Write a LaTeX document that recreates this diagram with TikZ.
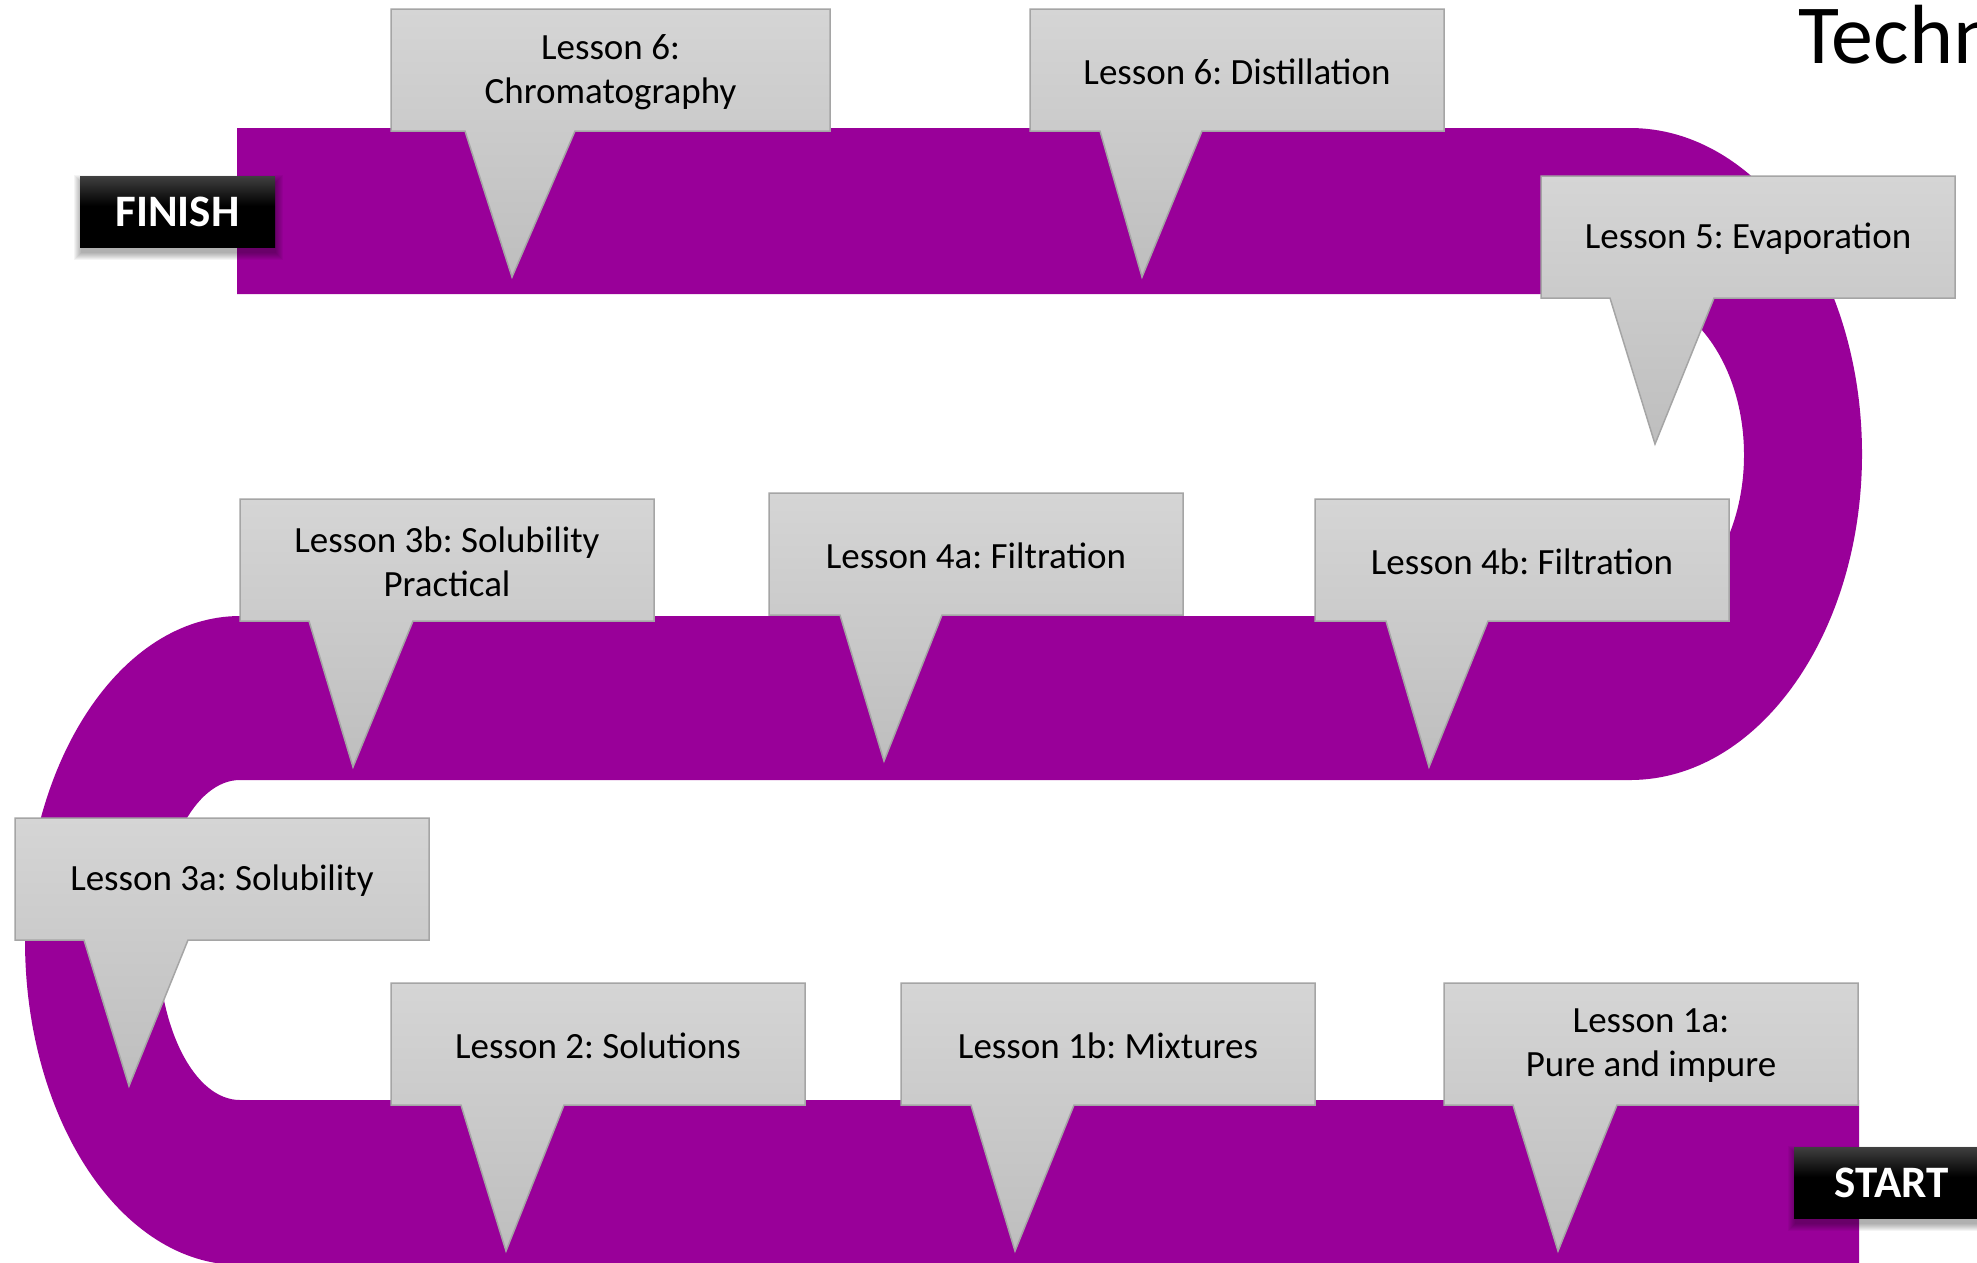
\documentclass[tikz,border=0pt]{standalone}
\usepackage{fontspec}
\setmainfont{Carlito}
\frenchspacing
\usetikzlibrary{shadows}
\definecolor{purp}{RGB}{153,0,153}
\definecolor{cTop}{RGB}{213,213,213}
\definecolor{cBot}{RGB}{190,190,190}
\definecolor{cLine}{RGB}{165,165,165}
\pgfdeclareverticalshading{darkbar}{100bp}{color(0bp)=(black); color(54bp)=(black); color(75bp)=(black!75); color(100bp)=(black!75)}
\tikzset{
  band/.style={fill=purp, draw=none},
  callout/.style={top color=cTop, bottom color=cBot, draw=cLine, line width=1.5pt, line join=miter},
  ctext/.style={font=\fontsize{37}{44}\selectfont, align=center, text=black, inner sep=0pt},
  tagbox/.style={font=\fontsize{45}{54}\selectfont\bfseries, text=white, inner sep=0pt,
    minimum width=195pt, minimum height=71pt, shading=darkbar},
  shadowpiece/.style={fill=black, fill opacity=0.045, draw=none},
}
% #1 name, #2 left, #3 top, #4 width, #5 base left offset, #6 base right offset, #7 tip offset, #8 text
\newcommand\callout[8]{%
  \path[callout] (#2,#3) -- ({#2+#4},#3) -- ({#2+#4},{#3+122}) -- ({#2+#6},{#3+122})
    -- ({#2+#7},{#3+268}) -- ({#2+#5},{#3+122}) -- (#2,{#3+122}) -- cycle;
  \node[ctext] (#1) at ({#2+#4/2},{#3+63}) {#8};
}
% soft shadow: #1 left, #2 top, #3 right, #4 bottom
\newcommand\softshadow[4]{%
  \foreach \k in {0,1,...,7}{
    \path[shadowpiece] ({#1+1-\k},{#2+6-\k}) rectangle ({#3+1+\k},{#4+6+\k});
  }
}
\begin{document}
\begin{tikzpicture}[x=1pt,y=-1pt]
\useasboundingbox[fill=white] (0,0) rectangle (1977,1262);
% purple snake
\path[band] (237,128) -- (1630,128)
  arc[start angle=-90, end angle=90, x radius=232, y radius=326]
  -- (240,780)
  arc[start angle=-90, end angle=-270, x radius=82, y radius=160]
  -- (1859,1100) -- (1859,1265) -- (240,1265)
  arc[start angle=90, end angle=270, x radius=215, y radius=324.5]
  -- (1630,616)
  arc[start angle=90, end angle=-90, x radius=114, y radius=161]
  -- (237,294) -- cycle;
% callouts
\callout{chrom}{391}{9}{439}{74}{184}{121}{Lesson 6:\\Chromatography}
\callout{distil}{1030}{9}{414}{70}{172}{112}{Lesson 6: Distillation}
\callout{evap}{1541}{176}{414}{69}{173}{114}{Lesson 5: Evaporation}
\callout{sol3b}{240}{499}{414}{69}{173}{113}{Lesson 3b: Solubility\\Practical}
\callout{filt4a}{769}{493}{414}{71}{173}{115}{Lesson 4a: Filtration}
\callout{filt4b}{1315}{499}{414}{71}{173}{114}{Lesson 4b: Filtration}
\callout{sol3a}{15}{818}{414}{69}{173}{114}{Lesson 3a: Solubility}
\callout{solut}{391}{983}{414}{70}{173}{115}{Lesson 2: Solutions}
\callout{mix}{901}{983}{414}{70}{173}{114}{Lesson 1b: Mixtures}
\callout{pure}{1444}{983}{414}{69}{173}{114}{Lesson 1a:\\Pure and impure}
% start / finish tags
\softshadow{80}{176}{275}{247}
\softshadow{1794}{1147}{1989}{1218}
\node[tagbox] (finish) at (177.5,211.5) {FINISH};
\node[tagbox] (start) at (1891.5,1182.5) {START};
% title
\node[anchor=base west, inner sep=0pt, font=\fontsize{84}{100}\selectfont] (title) at (1798,63) {Techn};
\end{tikzpicture}
\end{document}
